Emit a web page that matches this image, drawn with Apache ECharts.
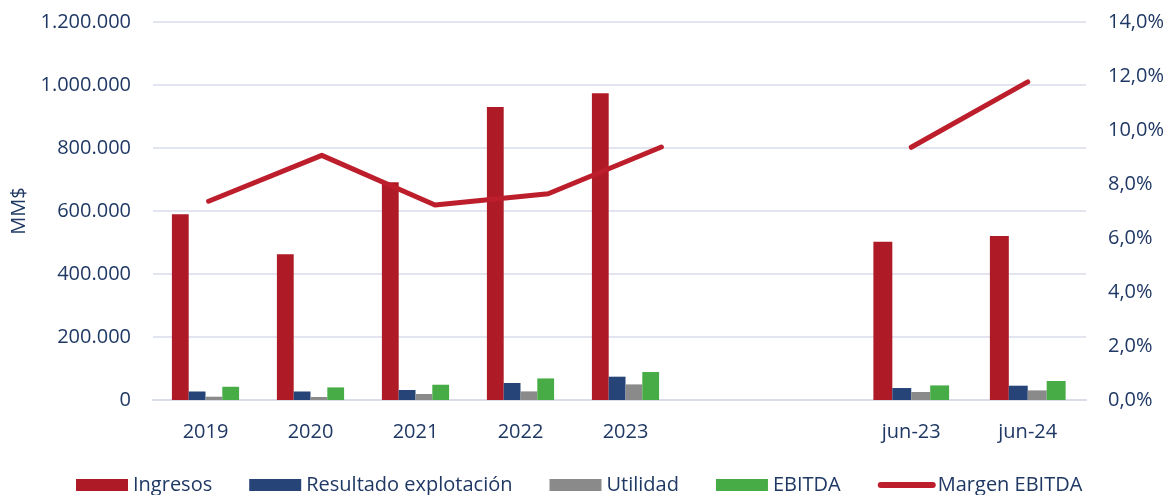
<!DOCTYPE html>
<html><head><meta charset="utf-8">
<script src="https://cdn.jsdelivr.net/npm/echarts@6/dist/echarts.min.js"></script>
<style>html,body{margin:0;padding:0;background:#fff}#c{width:1169px;height:495px}</style>
</head><body><div id="c"></div>
<script>
const years = ['2019', '2020', '2021', '2022', '2023'];
const halves = ['jun-23', 'jun-24'];
const ingresosYears = [590000, 463000, 691000, 930000, 974000];
const ingresosHalves = [502000, 521000];
const resultadoYears = [27000, 27000, 31700, 54000, 74000];
const resultadoHalves = [38000, 45400];
const utilidadYears = [10500, 9500, 19000, 27300, 49500];
const utilidadHalves = [25400, 30500];
const ebitdaYears = [42000, 40000, 48500, 68500, 88800];
const ebitdaHalves = [46300, 60300];
const margenYears = [7.36, 9.06, 7.22, 7.64, 9.37];
const margenHalves = [9.36, 11.78];
const leftScale = { min: 0, max: 1200000, interval: 200000 };
const rightScale = { min: 0, max: 14, interval: 2 };

const TXT = '#1F3864';
const FONT = 'Open Sans';
const FS = 20;
const GRIDC = '#D9DCEB';
const C = { ing: '#AE1A25', res: '#264478', uti: '#8A8A8A', ebi: '#47AC45', mar: '#BD1E2B' };

const fmtLeft = v => String(v).replace(/\B(?=(\d{3})+(?!\d))/g, '.');
const fmtRight = v => v.toFixed(1).replace('.', ',') + '%';

const gTop = 22, gBottom = 95;
const chart = echarts.init(document.getElementById('c'), null, { renderer: 'canvas' });

function bar(name, data, color, xi, yi, gap) {
  return { name, type: 'bar', data, xAxisIndex: xi, yAxisIndex: yi,
    itemStyle: { color }, barGap: '0%', barCategoryGap: gap, z: 2 };
}
function line(data, xi, yi) {
  return { name: 'Margen EBITDA', type: 'line', data, xAxisIndex: xi, yAxisIndex: yi,
    symbol: 'none', z: 5,
    lineStyle: { color: C.mar, width: 5, cap: 'round', join: 'round' },
    itemStyle: { color: C.mar } };
}
const hiddenX = (gi, data) => ({ gridIndex: gi, type: 'category', data, show: false });
const labelX = (gi, data) => ({ gridIndex: gi, type: 'category', data,
  axisLine: { show: false }, axisTick: { show: false },
  axisLabel: { color: TXT, fontFamily: FONT, fontSize: FS, margin: 22 }, splitLine: { show: false } });
const hiddenY = (gi, s) => Object.assign({ gridIndex: gi, type: 'value', show: false, splitLine: { show: false } }, s);

chart.setOption({
  animation: false,
  backgroundColor: '#fff',
  textStyle: { fontFamily: FONT },
  grid: [
    { left: 153, right: 83, top: gTop, bottom: gBottom },
    { left: 153, width: 525, top: gTop, bottom: gBottom },
    { left: 152, width: 566, top: gTop, bottom: gBottom },
    { left: 853, width: 233, top: gTop, bottom: gBottom }
  ],
  legend: {
    left: 76, top: 475, padding: 0,
    itemWidth: 52, itemHeight: 12, itemGap: 37,
    textStyle: { color: TXT, fontFamily: FONT, fontSize: FS },
    data: [
      { name: 'Ingresos', icon: 'rect' },
      { name: 'Resultado explotación', icon: 'rect' },
      { name: 'Utilidad', icon: 'rect' },
      { name: 'EBITDA', icon: 'rect' },
      { name: 'Margen EBITDA', itemStyle: { opacity: 0 },
        lineStyle: { width: 6, color: C.mar, cap: 'round' } }
    ]
  },
  xAxis: [
    { gridIndex: 0, type: 'category', data: [''],
      axisLine: { show: true, lineStyle: { color: GRIDC, width: 2 } },
      axisTick: { show: false }, axisLabel: { show: false }, splitLine: { show: false } },
    labelX(1, years),
    hiddenX(2, years),
    labelX(3, halves)
  ],
  yAxis: [
    Object.assign({ gridIndex: 0, type: 'value', position: 'left',
      name: 'MM$', nameLocation: 'middle', nameRotate: 90, nameGap: 116,
      nameTextStyle: { color: TXT, fontFamily: FONT, fontSize: FS },
      axisLine: { show: false }, axisTick: { show: false },
      axisLabel: { color: TXT, fontFamily: FONT, fontSize: FS, margin: 22, formatter: fmtLeft },
      splitLine: { show: true, lineStyle: { color: GRIDC, width: 1.5 } } }, leftScale),
    Object.assign({ gridIndex: 0, type: 'value', position: 'right',
      axisLine: { show: false }, axisTick: { show: false },
      axisLabel: { color: TXT, fontFamily: FONT, fontSize: FS, margin: 22, formatter: fmtRight },
      splitLine: { show: false } }, rightScale),
    hiddenY(1, leftScale),
    hiddenY(2, rightScale),
    hiddenY(3, leftScale),
    hiddenY(3, rightScale)
  ],
  series: [
    bar('Ingresos', ingresosYears, C.ing, 1, 2, '36%'),
    bar('Resultado explotación', resultadoYears, C.res, 1, 2, '36%'),
    bar('Utilidad', utilidadYears, C.uti, 1, 2, '36%'),
    bar('EBITDA', ebitdaYears, C.ebi, 1, 2, '36%'),
    bar('Ingresos', ingresosHalves, C.ing, 3, 4, '35%'),
    bar('Resultado explotación', resultadoHalves, C.res, 3, 4, '35%'),
    bar('Utilidad', utilidadHalves, C.uti, 3, 4, '35%'),
    bar('EBITDA', ebitdaHalves, C.ebi, 3, 4, '35%'),
    line(margenYears, 2, 3),
    line(margenHalves, 3, 5)
  ]
});
</script></body></html>
